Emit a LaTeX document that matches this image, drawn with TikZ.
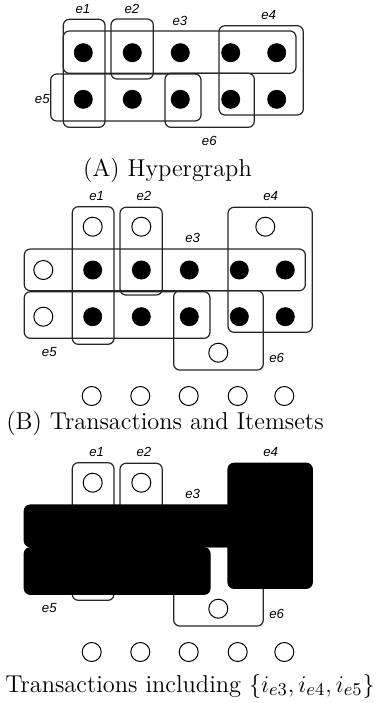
\documentclass[tikz,border=0pt]{standalone}
\usepackage{fontspec}
\newfontfamily\edgefont{Liberation Sans}
\tikzset{
	hedge/.style={draw=black!85, line width=0.6pt, rounded corners=3pt},
	hfill/.style={draw=black, fill=black, line width=0.6pt, rounded corners=3pt},
	fullitem/.style={fill=black},
	emptyitem/.style={draw=black, fill=white, line width=0.5pt},
	elabel/.style={font=\edgefont\itshape\fontsize{6.6}{7}\selectfont, inner sep=0pt},
	caption/.style={font=\fontsize{12.2}{14}\selectfont, inner sep=0pt, anchor=base}
}
\def\itemr{4.75pt}

\begin{document}
\begin{tikzpicture}[x=0.5pt, y=-0.5pt]
		%%%%% START %%%%%
		\useasboundingbox (0, 0) rectangle (382, 703);
		
		%%%%% (A) hypergraph %%%%%
		\draw[hedge] (63.3, 19.3) rectangle (105, 127.3);
		\draw[hedge] (111, 19) rectangle (153.3, 79);
		\draw[hedge] (63.3, 31) rectangle (296, 73.3);
		\draw[hedge] (219, 25.7) rectangle (303.3, 115);
		\draw[hedge] (50.7, 74) rectangle (201, 121);
		\draw[hedge] (165, 73.3) rectangle (254.3, 127.3);
		
		\foreach \x in {83.3, 132.3, 180.3, 230.7, 276.7}
		{
			\fill[fullitem] (\x, 52.7) circle (\itemr);
			\fill[fullitem] (\x, 99.3) circle (\itemr);
		}
		
		\node[elabel] (ae1) at (83, 9.3) {e1};
		\node[elabel] (ae2) at (132, 9.3) {e2};
		\node[elabel] (ae3) at (180, 20.7) {e3};
		\node[elabel] (ae4) at (268.7, 15) {e4};
		\node[elabel] (ae5) at (42.3, 99) {e5};
		\node[elabel] (ae6) at (209.3, 141) {e6};
		
		\node[caption] (capa) at (167.5, 176.5) {(A) Hypergraph};
		
		%%%%% (B) transactions and itemsets %%%%%
		\draw[hedge] (72.3, 206.7) rectangle (114, 344.3);
		\draw[hedge] (120, 207.3) rectangle (162.3, 295);
		\draw[hedge] (24.3, 249) rectangle (305.3, 290.7);
		\draw[hedge] (228, 207.3) rectangle (312.3, 332.3);
		\draw[hedge] (24.3, 291.7) rectangle (210, 338.3);
		\draw[hedge] (173.7, 290.7) rectangle (263.3, 370);
		
		\foreach \x in {92.7, 141.3, 189.3, 239.3, 285.3}
		{
			\fill[fullitem] (\x, 270) circle (\itemr);
			\fill[fullitem] (\x, 316.7) circle (\itemr);
		}
		\foreach \x/\y in {92.7/226.7, 141.3/226.7, 265.3/226.7, 43.3/270, 43.3/316.7, 218.3/352.7}
			\draw[emptyitem] (\x, \y) circle (\itemr);
		\foreach \x in {91.7, 140.3, 188.7, 237.7, 284.3}
			\draw[emptyitem] (\x, 396) circle (\itemr);
		
		\node[elabel] (be1) at (96.7, 195.7) {e1};
		\node[elabel] (be2) at (144, 195.7) {e2};
		\node[elabel] (be3) at (192.7, 238.3) {e3};
		\node[elabel] (be4) at (270.7, 196) {e4};
		\node[elabel] (be5) at (49.3, 352.3) {e5};
		\node[elabel] (be6) at (276.7, 358.3) {e6};
		
		\node[caption] (capb) at (165, 429) {(B) Transactions and Itemsets};
		
		%%%%% (C) transactions including e3, e4, e5 %%%%%
		\draw[hedge] (72.3, 462.7) rectangle (114, 600.3);
		\draw[hedge] (120, 463.3) rectangle (162.3, 551);
		\draw[hedge] (173.7, 546.7) rectangle (263.3, 626);
		
		\draw[emptyitem] (92.7, 482.7) circle (\itemr);
		\draw[emptyitem] (141.3, 482.7) circle (\itemr);
		\draw[emptyitem] (218.3, 608.7) circle (\itemr);
		
		\draw[hfill] (24.3, 505) rectangle (305.3, 546.7);
		\draw[hfill] (24.3, 547.7) rectangle (210, 594.3);
		\draw[hfill] (228, 463.3) rectangle (312.3, 588.3);
		
		\foreach \x in {91.7, 140.3, 188.7, 237.7, 284.3}
			\draw[emptyitem] (\x, 652) circle (\itemr);
		
		\node[elabel] (ce1) at (96.7, 451.7) {e1};
		\node[elabel] (ce2) at (144, 451.7) {e2};
		\node[elabel] (ce3) at (192.7, 494.3) {e3};
		\node[elabel] (ce4) at (270.7, 452) {e4};
		\node[elabel] (ce5) at (49.3, 608.3) {e5};
		\node[elabel] (ce6) at (276.7, 614.3) {e6};
		
		\node[caption] (capc) at (190, 692) {Transactions including $\{i_{e3}, i_{e4}, i_{e5}\}$};
		
		%%%%% END %%%%%
\end{tikzpicture}
\end{document}
